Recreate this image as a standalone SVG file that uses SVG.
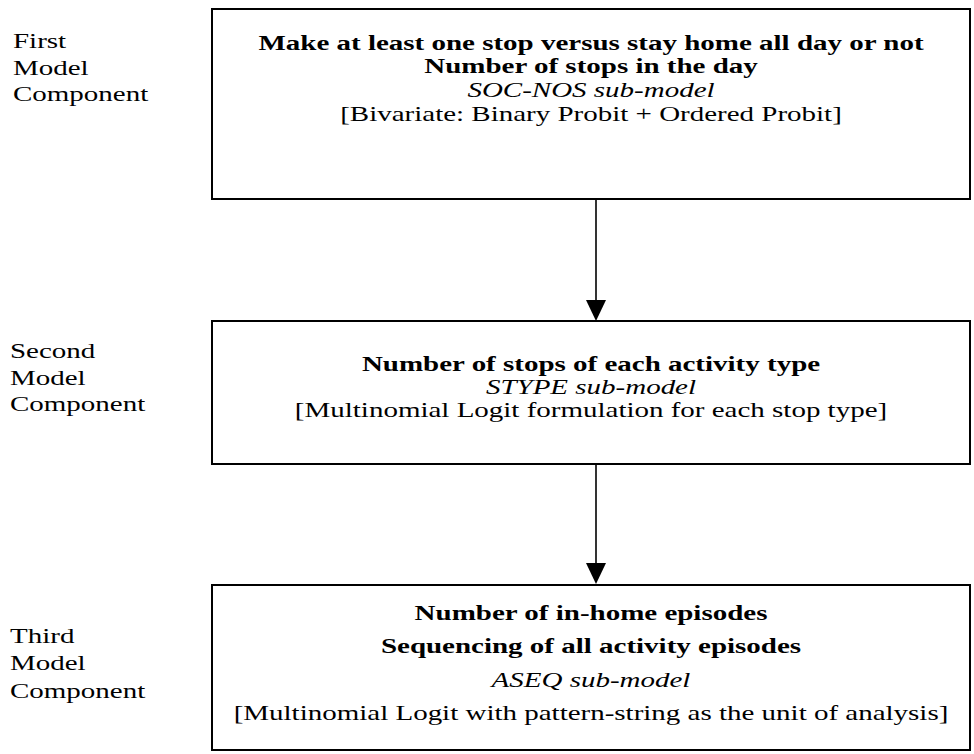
<svg xmlns="http://www.w3.org/2000/svg" width="974" height="754" viewBox="0 0 974 754">
<defs>
<style>
.box{fill:#fff;stroke:#000;stroke-width:2}
.t{font-family:"Liberation Serif","Times New Roman",serif;font-size:20px;fill:#000}
.c{text-anchor:middle}
.b{font-weight:bold}
.i{font-style:italic}
.ln{stroke:#000;stroke-width:1.6;fill:none}
</style>
</defs>
<rect width="974" height="754" fill="#fff"/>
<g id="label1" transform="translate(13,0) scale(1.45,1)">
<text class="t" x="0" y="48">First</text>
<text class="t" x="0" y="75">Model</text>
<text class="t" x="0" y="101">Component</text>
</g>
<g id="label2" transform="translate(10,0) scale(1.45,1)">
<text class="t" x="0" y="358">Second</text>
<text class="t" x="0" y="385">Model</text>
<text class="t" x="0" y="411">Component</text>
</g>
<g id="label3" transform="translate(10,0) scale(1.45,1)">
<text class="t" x="0" y="643">Third</text>
<text class="t" x="0" y="670">Model</text>
<text class="t" x="0" y="698">Component</text>
</g>
<g id="connectors">
<line class="ln" x1="596" y1="199" x2="596" y2="302"/>
<polygon points="586,300 606,300 596,321" fill="#000"/>
<line class="ln" x1="596" y1="465" x2="596" y2="565"/>
<polygon points="586,563 606,563 596,584" fill="#000"/>
</g>
<g id="box1">
<rect class="box" x="212" y="9" width="758" height="190"/>
<g transform="translate(591,0) scale(1.45,1)">
<text class="t c b" x="0" y="50">Make at least one stop versus stay home all day or not</text>
<text class="t c b" x="0" y="73">Number of stops in the day</text>
<text class="t c i" x="0" y="97">SOC-NOS sub-model</text>
<text class="t c" x="0" y="121">[Bivariate: Binary Probit + Ordered Probit]</text>
</g>
</g>
<g id="box2">
<rect class="box" x="212" y="321" width="758" height="143"/>
<g transform="translate(591,0) scale(1.45,1)">
<text class="t c b" x="0" y="371">Number of stops of each activity type</text>
<text class="t c i" x="0" y="394">STYPE sub-model</text>
<text class="t c" x="0" y="417">[Multinomial Logit formulation for each stop type]</text>
</g>
</g>
<g id="box3">
<rect class="box" x="212" y="585" width="758" height="165"/>
<g transform="translate(591,0) scale(1.45,1)">
<text class="t c b" x="0" y="620">Number of in-home episodes</text>
<text class="t c b" x="0" y="653">Sequencing of all activity episodes</text>
<text class="t c i" x="0" y="687">ASEQ sub-model</text>
<text class="t c" x="0" y="720">[Multinomial Logit with pattern-string as the unit of analysis]</text>
</g>
</g>
</svg>
